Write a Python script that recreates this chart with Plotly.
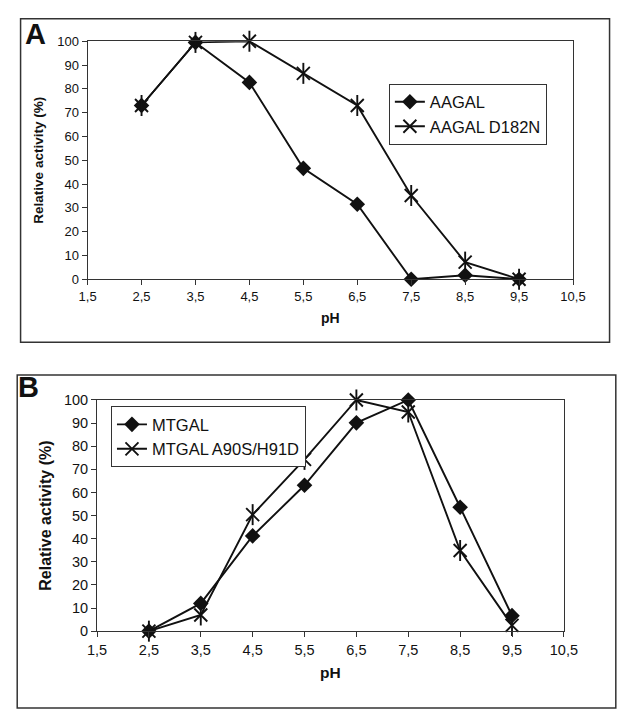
import plotly.graph_objects as go

# ---------------- data ----------------
ph = [2.5, 3.5, 4.5, 5.5, 6.5, 7.5, 8.5, 9.5]
x_tick_vals = [1.5, 2.5, 3.5, 4.5, 5.5, 6.5, 7.5, 8.5, 9.5, 10.5]
x_tick_text = ["1,5", "2,5", "3,5", "4,5", "5,5", "6,5", "7,5", "8,5", "9,5", "10,5"]
y_tick_vals = [0, 10, 20, 30, 40, 50, 60, 70, 80, 90, 100]

aagal = [73, 99.5, 82.7, 46.6, 31.5, 0, 1.7, 0]
aagal_d182n = [73, 99.5, 100, 86.5, 73, 35.2, 7.2, 0]

mtgal = [0, 12, 41.2, 63.1, 90.1, 100, 53.6, 6.7]
mtgal_mut = [0, 7, 50.4, 74.3, 100, 94.8, 34.9, 2.5]

names_a = ["AAGAL", "AAGAL D182N"]
names_b = ["MTGAL", "MTGAL A90S/H91D"]

# ---------------- layout helpers ----------------
W, H = 625, 711
FONT = "Liberation Sans, Arial, Helvetica, sans-serif"
INK = "#111111"


def px(xp):
    return xp / W


def py(yp):
    return (H - yp) / H


fig = go.Figure()


def add_pair(xa, ya, y1, y2, n1, n2, legend):
    fig.add_trace(go.Scatter(
        x=ph, y=y1, name=n1, mode="lines+markers", xaxis=xa, yaxis=ya,
        line=dict(color=INK, width=1.9),
        marker=dict(symbol="diamond", size=12, color=INK),
        cliponaxis=False, legend=legend))
    fig.add_trace(go.Scatter(
        x=ph, y=y2, name=n2, mode="lines+markers", xaxis=xa, yaxis=ya,
        line=dict(color=INK, width=1.9),
        marker=dict(symbol="x-thin-open", size=13, color=INK,
                    line=dict(color=INK, width=1.9)),
        cliponaxis=False, legend=legend))
    fig.add_trace(go.Scatter(
        x=ph, y=y2, mode="markers", xaxis=xa, yaxis=ya, showlegend=False,
        marker=dict(symbol="line-ns-open", size=15, color=INK,
                    line=dict(color=INK, width=1.9)),
        cliponaxis=False, hoverinfo="skip"))


add_pair("x", "y", aagal, aagal_d182n, names_a[0], names_a[1], "legend")
add_pair("x2", "y2", mtgal, mtgal_mut, names_b[0], names_b[1], "legend2")


def xaxis_cfg(domain, anchor, fsize, standoff):
    return dict(domain=domain, anchor=anchor, range=[1.5, 10.5],
                tickmode="array", tickvals=x_tick_vals, ticktext=x_tick_text,
                ticks="outside", ticklen=5, tickcolor="#333", tickwidth=1,
                showline=True, linecolor="#333", linewidth=1, mirror=True,
                showgrid=False, zeroline=False,
                tickfont=dict(family=FONT, size=fsize, color=INK),
                title=dict(text="pH", standoff=standoff,
                           font=dict(family=FONT, size=fsize + 1, color=INK, weight="bold")))


def yaxis_cfg(domain, anchor, fsize, tsize, standoff):
    return dict(domain=domain, anchor=anchor, range=[0, 100],
                tickmode="array", tickvals=y_tick_vals,
                ticks="outside", ticklen=5, tickcolor="#333", tickwidth=1,
                showline=True, linecolor="#333", linewidth=1, mirror=True,
                showgrid=False, zeroline=False,
                tickfont=dict(family=FONT, size=fsize, color=INK),
                title=dict(text="Relative activity (%)", standoff=standoff,
                           font=dict(family=FONT, size=tsize, color=INK, weight="bold")))


fig.update_layout(
    width=W, height=H, margin=dict(l=0, r=0, t=0, b=0),
    paper_bgcolor="white", plot_bgcolor="white",
    font=dict(family=FONT, color=INK),
    xaxis=xaxis_cfg([px(80.7), px(585.5)], "y", 13, 10),
    yaxis=yaxis_cfg([py(277.5), py(34)], "x", 13, 13.5, 10),
    xaxis2=xaxis_cfg([px(90.5), px(576)], "y2", 14.5, 10),
    yaxis2=yaxis_cfg([py(637.5), py(401)], "x2", 14.5, 16, 8),
    legend=dict(x=px(394), y=py(77.3), xanchor="left", yanchor="top",
                bgcolor="white", bordercolor="#333", borderwidth=1,
                font=dict(family=FONT, size=16.5, color=INK),
                itemwidth=30, tracegroupgap=0),
    legend2=dict(x=px(105), y=py(407.3), xanchor="left", yanchor="top",
                 bgcolor="white", bordercolor="#333", borderwidth=1,
                 font=dict(family=FONT, size=16.5, color=INK),
                 itemwidth=30, tracegroupgap=0),
    shapes=[
        dict(type="rect", xref="paper", yref="paper",
             x0=px(11), x1=px(623.5), y0=py(342), y1=py(11),
             line=dict(color="#333", width=1.5), fillcolor="rgba(0,0,0,0)", layer="below"),
        dict(type="rect", xref="paper", yref="paper",
             x0=px(7.5), x1=px(630), y0=py(716), y1=py(375.5),
             line=dict(color="#333", width=1.5), fillcolor="rgba(0,0,0,0)", layer="below"),
    ],
    annotations=[
        dict(text="<b>A</b>", xref="paper", yref="paper", x=px(14), y=py(27),
             xanchor="left", yanchor="middle", showarrow=False,
             font=dict(family=FONT, size=29, color=INK)),
        dict(text="<b>B</b>", xref="paper", yref="paper", x=px(6), y=py(387.5),
             xanchor="left", yanchor="middle", showarrow=False,
             font=dict(family=FONT, size=29, color=INK)),
    ],
)

fig.write_html(
    "out.html",
    config={"displayModeBar": False},
    post_script="document.body.style.margin='0';document.body.style.overflow='hidden';",
)
